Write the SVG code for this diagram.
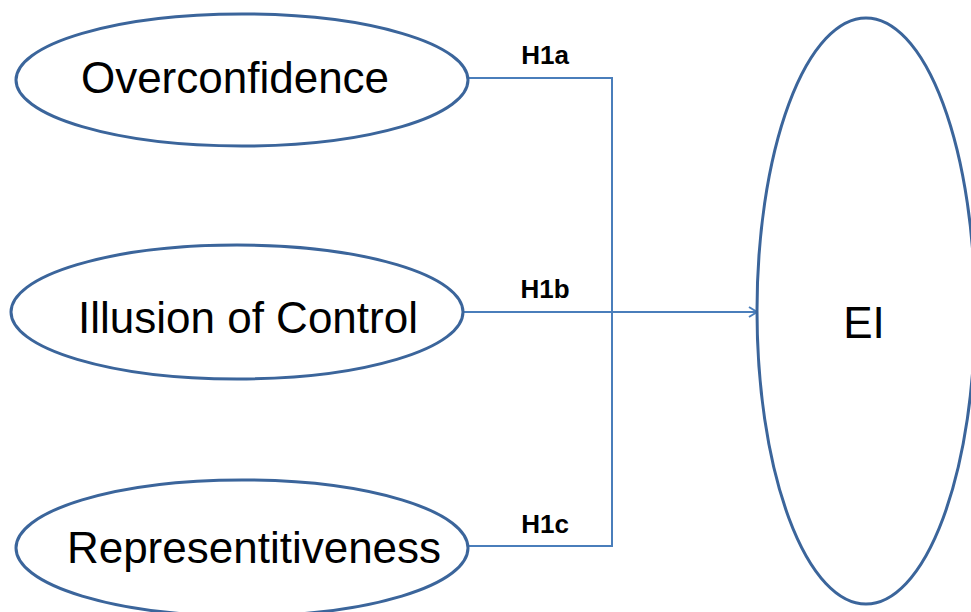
<svg xmlns="http://www.w3.org/2000/svg" width="971" height="612" viewBox="0 0 971 612">
  <style>
    .node { fill: #ffffff; stroke: #3b659b; stroke-width: 3; }
    .label { font-family: "Liberation Sans", Arial, sans-serif; font-size: 44px; fill: #000000; text-anchor: middle; }
    .hyp { font-family: "Liberation Sans", Arial, sans-serif; font-size: 26px; font-weight: bold; fill: #000000; text-anchor: middle; }
    .link { fill: none; stroke: #4a7ebb; stroke-width: 2; }
  </style>
  <defs>
    <marker id="arrow" markerWidth="12" markerHeight="12" refX="10" refY="6" orient="auto" markerUnits="userSpaceOnUse">
      <path d="M2,1 L10,6 L2,11" fill="none" stroke="#4a7ebb" stroke-width="2"/>
    </marker>
  </defs>
  <rect width="971" height="612" fill="#ffffff"/>

  <g id="connectors">
    <path class="link" d="M468,78 H612 V546 H468"/>
    <path class="link" d="M463,312 H757" marker-end="url(#arrow)"/>
    <text class="hyp" x="545" y="64">H1a</text>
    <text class="hyp" x="545" y="298">H1b</text>
    <text class="hyp" x="545" y="533">H1c</text>
  </g>

  <g id="overconfidence">
    <ellipse class="node" cx="242" cy="80" rx="226" ry="66"/>
    <text class="label" x="235" y="93">Overconfidence</text>
  </g>

  <g id="illusion-of-control">
    <ellipse class="node" cx="237" cy="312" rx="226" ry="67"/>
    <text class="label" x="248" y="333">Illusion of Control</text>
  </g>

  <g id="representitiveness">
    <ellipse class="node" cx="242" cy="548" rx="226" ry="68"/>
    <text class="label" x="254" y="563">Representitiveness</text>
  </g>

  <g id="ei">
    <ellipse class="node" cx="866" cy="311" rx="109" ry="293"/>
    <text class="label" x="864" y="338">EI</text>
  </g>
</svg>
